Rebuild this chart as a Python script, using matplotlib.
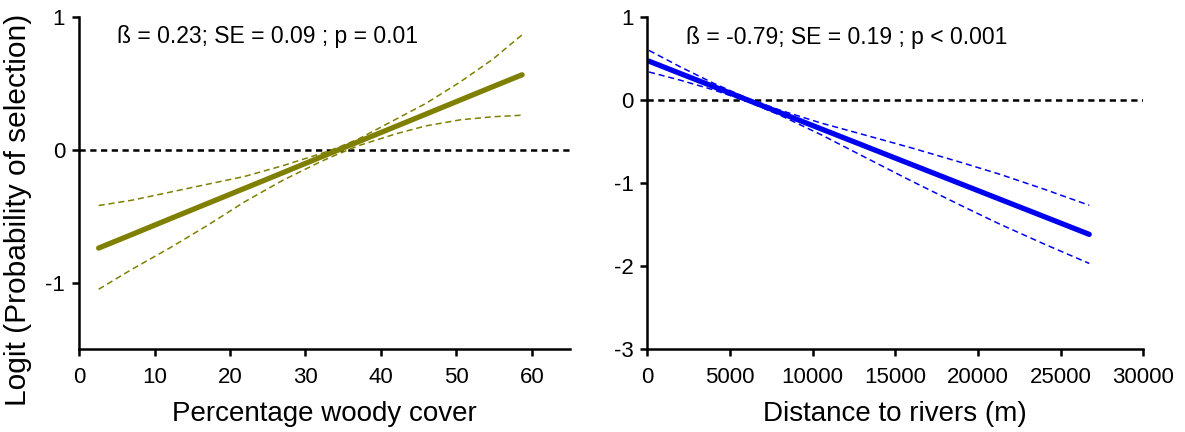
import matplotlib.pyplot as plt

plt.rcParams['font.family'] = ['Liberation Sans', 'DejaVu Sans']
plt.rcParams['axes.unicode_minus'] = False

# Left panel: percentage woody cover
woody_x = [2.6, 7, 12, 17, 22, 27, 32, 34, 37, 42, 46, 50.5, 54.8, 58.7]
woody_fit = [-0.74, -0.638, -0.521, -0.405, -0.289, -0.173, -0.056, -0.01,
             0.06, 0.176, 0.269, 0.374, 0.474, 0.564]
woody_upper = [-0.42, -0.38, -0.32, -0.26, -0.20, -0.12, -0.03, 0.01,
               0.08, 0.23, 0.35, 0.51, 0.68, 0.865]
woody_lower = [-1.05, -0.90, -0.74, -0.57, -0.39, -0.23, -0.09, -0.04,
               0.03, 0.12, 0.18, 0.225, 0.248, 0.26]
woody_text = "ß = 0.23; SE = 0.09 ; p = 0.01"

# Right panel: distance to rivers
river_x = [100, 2000, 4000, 6000, 8000, 10500, 13000, 16000, 19000, 21300, 24000, 26730]
river_fit = [0.466, 0.317, 0.161, 0.004, -0.152, -0.348, -0.544, -0.779,
             -1.014, -1.194, -1.405, -1.619]
river_upper = [0.596, 0.397, 0.201, 0.024, -0.122, -0.278, -0.414, -0.579,
               -0.754, -0.894, -1.075, -1.269]
river_lower = [0.336, 0.237, 0.121, -0.016, -0.182, -0.418, -0.674, -0.979,
               -1.274, -1.494, -1.735, -1.969]
river_text = "ß = -0.79; SE = 0.19 ; p < 0.001"

olive = '#7f7f00'
blue = '#0000f0'

fig = plt.figure(figsize=(11.85, 4.32), dpi=100)
ax1 = fig.add_axes([0.0667, 0.192, 0.414, 0.769])
ax2 = fig.add_axes([0.5463, 0.192, 0.4185, 0.769])


def style(ax):
    for s in ['top', 'right']:
        ax.spines[s].set_visible(False)
    for s in ['left', 'bottom']:
        ax.spines[s].set_linewidth(1.8)
    ax.tick_params(width=1.8, length=5, labelsize=16)
    ax.tick_params(axis='x', pad=8)
    ax.tick_params(axis='y', pad=5)


# left
ax1.axhline(0, color='black', lw=1.8, ls=(0, (2.5, 1.8)), zorder=1)
ax1.plot(woody_x, woody_upper, color=olive, lw=1.1, ls=(0, (4, 2.5)))
ax1.plot(woody_x, woody_lower, color=olive, lw=1.1, ls=(0, (4, 2.5)))
ax1.plot(woody_x, woody_fit, color=olive, lw=3.8, solid_capstyle='round')
ax1.set_xlim(0, 65)
ax1.set_ylim(-1.5, 1)
ax1.set_xticks([0, 10, 20, 30, 40, 50, 60])
ax1.set_yticks([-1, 0, 1])
ax1.set_xlabel("Percentage woody cover", fontsize=20, labelpad=9)
ax1.set_ylabel("Logit (Probability of selection)", fontsize=21.5)
ax1.yaxis.set_label_coords(-0.095, 0.42)
ax1.text(5, 0.85, woody_text, fontsize=16.5, va='center', ha='left')
style(ax1)

# right
ax2.axhline(0, color='black', lw=1.8, ls=(0, (2.5, 1.8)), zorder=1)
ax2.plot(river_x, river_upper, color=blue, lw=1.1, ls=(0, (4, 2.5)))
ax2.plot(river_x, river_lower, color=blue, lw=1.1, ls=(0, (4, 2.5)))
ax2.plot(river_x, river_fit, color=blue, lw=3.8, solid_capstyle='round')
ax2.set_xlim(0, 30000)
ax2.set_ylim(-3, 1)
ax2.set_xticks([0, 5000, 10000, 15000, 20000, 25000, 30000])
ax2.set_yticks([-3, -2, -1, 0, 1])
ax2.set_xlabel("Distance to rivers (m)", fontsize=20, labelpad=9)
ax2.text(2350, 0.755, river_text, fontsize=16.5, va='center', ha='left')
style(ax2)

fig.savefig('out.png', dpi=100)
